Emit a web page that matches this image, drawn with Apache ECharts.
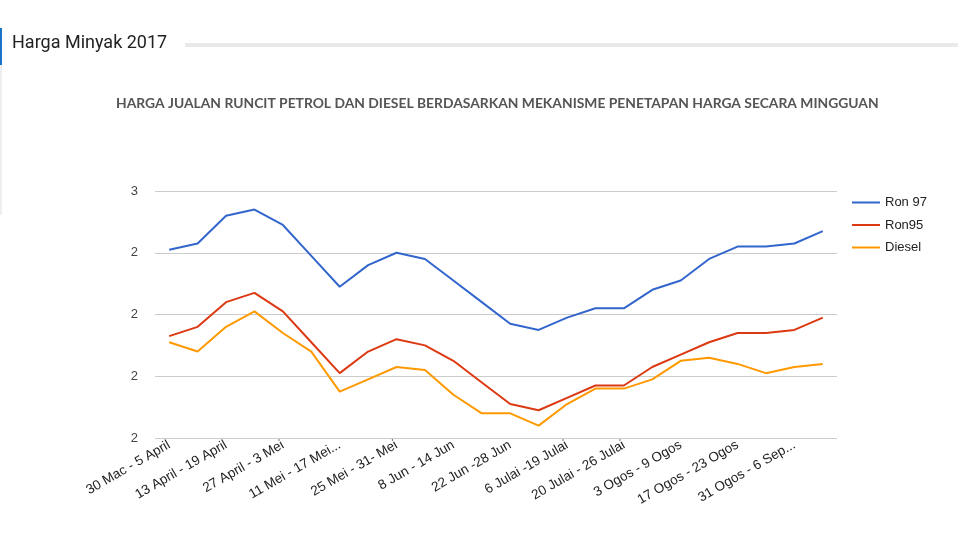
<!DOCTYPE html>
<html>
<head>
<meta charset="utf-8">
<script src="https://cdn.jsdelivr.net/npm/echarts@6/dist/echarts.min.js"></script>
<style>
html,body{margin:0;padding:0;background:#fff;}
#c{width:958px;height:539px;}
</style>
</head>
<body>
<div id="c"></div>
<script>
var categories = [
  "30 Mac - 5 April", "6 April - 12 April", "13 April - 19 April", "20 April - 26 April",
  "27 April - 3 Mei", "4 Mei - 10 Mei", "11 Mei - 17 Mei...", "18 Mei - 24 Mei",
  "25 Mei - 31- Mei", "1 Jun - 7 Jun", "8 Jun - 14 Jun", "15 Jun - 21 Jun",
  "22 Jun -28 Jun", "29 Jun - 5 Julai", "6 Julai -19 Julai", "13 Julai - 19 Julai",
  "20 Julai - 26 Julai", "27 Julai - 2 Ogos", "3 Ogos - 9 Ogos", "10 Ogos - 16 Ogos",
  "17 Ogos - 23 Ogos", "24 Ogos - 30 Ogos", "31 Ogos - 6 Sep...", "7 Sep - 13 Sep"
];
var ron97 = [2.41, 2.43, 2.52, 2.54, 2.49, 2.39, 2.29, 2.36, 2.40, 2.38, 2.31, 2.24,
             2.17, 2.15, 2.19, 2.22, 2.22, 2.28, 2.31, 2.38, 2.42, 2.42, 2.43, 2.47];
var ron95 = [2.13, 2.16, 2.24, 2.27, 2.21, 2.11, 2.01, 2.08, 2.12, 2.10, 2.05, 1.98,
             1.91, 1.89, 1.93, 1.97, 1.97, 2.03, 2.07, 2.11, 2.14, 2.14, 2.15, 2.19];
var diesel = [2.11, 2.08, 2.16, 2.21, 2.14, 2.08, 1.95, 1.99, 2.03, 2.02, 1.94, 1.88,
              1.88, 1.84, 1.91, 1.96, 1.96, 1.99, 2.05, 2.06, 2.04, 2.01, 2.03, 2.04];
var seriesNames = ["Ron 97", "Ron95", "Diesel"];
var yMin = 1.8, yMax = 2.6, yStep = 0.2;

var chart = echarts.init(document.getElementById('c'), null, {renderer: 'canvas'});
chart.setOption({
  animation: false,
  color: ['#3366cc', '#dc3912', '#ff9900'],
  title: [{
    text: 'HARGA JUALAN RUNCIT PETROL DAN DIESEL BERDASARKAN MEKANISME PENETAPAN HARGA SECARA MINGGUAN',
    left: 116, top: 97, padding: 0,
    textStyle: {fontFamily: 'Lato', fontSize: 13.85, fontWeight: 'bold', color: '#555'}
  }, {
    text: 'Harga Minyak 2017',
    left: 12, top: 34, padding: 0,
    textStyle: {fontFamily: 'Roboto', fontSize: 18, fontWeight: 'normal', color: '#222'}
  }],
  graphic: [
    {type: 'rect', left: 0, top: 28, shape: {width: 2, height: 37}, style: {fill: '#1a73c8'}},
    {type: 'rect', left: 0, top: 65, shape: {width: 2, height: 150}, style: {fill: '#eeeeee'}},
    {type: 'rect', left: 185, top: 43, shape: {width: 773, height: 4}, style: {fill: '#e9e9e9'}}
  ],
  legend: {
    orient: 'vertical', left: 852, top: 196, itemGap: 9.5, padding: 0,
    itemWidth: 28, itemHeight: 15, icon: 'path://M0,6 L28,6 L28,8 L0,8 Z',
    textStyle: {fontFamily: 'Arial', fontSize: 13, color: '#222'},
    data: seriesNames
  },
  grid: {left: 155, right: 121, top: 191, bottom: 101, containLabel: false},
  xAxis: {
    type: 'category', data: categories, boundaryGap: true,
    axisLine: {show: false}, axisTick: {show: false},
    axisLabel: {
      interval: 1, rotate: 30, margin: 6,
      fontFamily: 'Arial', fontSize: 13.5, color: '#222'
    }
  },
  yAxis: {
    type: 'value', min: yMin, max: yMax, interval: yStep,
    axisLine: {show: false}, axisTick: {show: false},
    splitLine: {lineStyle: {color: '#cccccc', width: 1}},
    axisLabel: {
      margin: 17, fontFamily: 'Arial', fontSize: 13, color: '#444',
      formatter: function (v) { return String(Math.round(v)); }
    }
  },
  series: [
    {name: seriesNames[0], type: 'line', data: ron97, symbol: 'none', lineStyle: {width: 2}},
    {name: seriesNames[1], type: 'line', data: ron95, symbol: 'none', lineStyle: {width: 2}},
    {name: seriesNames[2], type: 'line', data: diesel, symbol: 'none', lineStyle: {width: 2}}
  ]
});
</script>
</body>
</html>
